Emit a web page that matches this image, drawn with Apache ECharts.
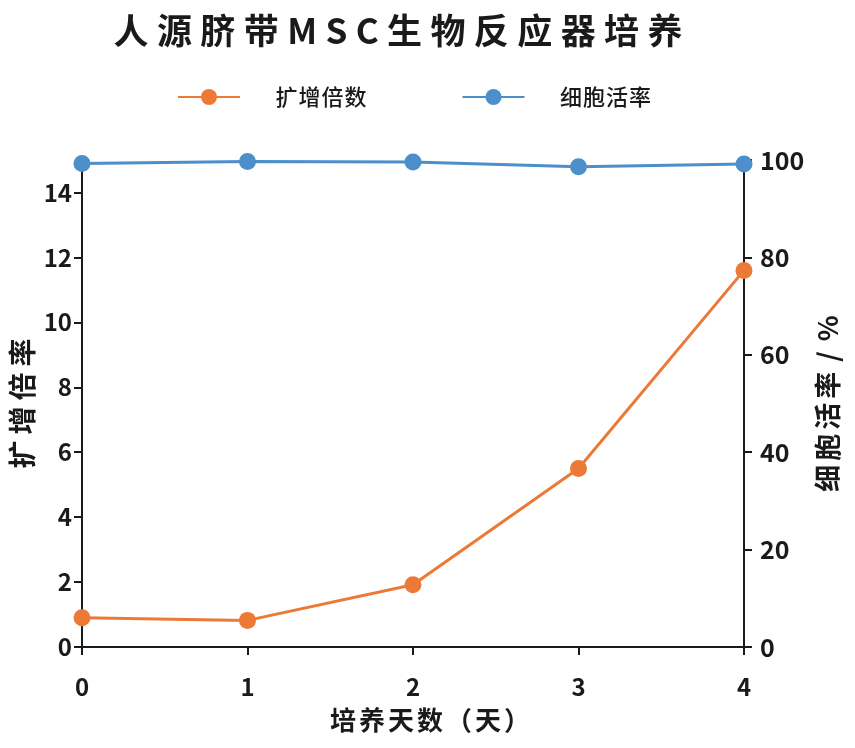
<!DOCTYPE html>
<html>
<head>
<meta charset="utf-8">
<script src="https://cdn.jsdelivr.net/npm/echarts@6/dist/echarts.min.js"></script>
<style>html,body{margin:0;padding:0;background:#fff}#c{width:855px;height:748px}</style>
</head>
<body>
<div id="c"></div>
<script>
var days = [0, 1, 2, 3, 4];
var foldExpansion = [0.9, 0.82, 1.92, 5.5, 11.6];
var viability = [99.3, 99.7, 99.6, 98.6, 99.2];
var seriesNames = ['扩增倍数', '细胞活率'];
var titleText = '人源脐带MSC生物反应器培养';
var xName = '培养天数（天）';
var yLeftName = '扩增倍率';
var yRightName = '细胞活率 / %';

var F = '"Noto Sans CJK SC", "Noto Sans", sans-serif';
var ink = '#1a1a1a';
var orange = '#EC7A36';
var blue = '#4C8FCB';

function spaced(s, key) {
  return s.split('').map(function (c) { return c === ' ' ? ' ' : '{' + key + '|' + c + '}'; }).join('');
}
function richStyle(size, weight, gap) {
  return { fontFamily: F, fontSize: size, fontWeight: weight, color: ink, padding: [0, gap / 2, 0, gap / 2] };
}

var chart = echarts.init(document.getElementById('c'));
chart.setOption({
  backgroundColor: '#fff',
  animation: false,
  title: {
    text: spaced(titleText, 't'),
    left: 393, textAlign: 'center', top: 8,
    textStyle: { fontFamily: F, fontSize: 35, fontWeight: 'bold', color: ink, rich: { t: richStyle(35, 'bold', 8.4) } }
  },
  legend: {
    top: 81, left: 172,
    itemGap: 95,
    itemWidth: 62, itemHeight: 20,
    formatter: function (n) { return spaced(n, 'l'); },
    textStyle: { fontFamily: F, fontSize: 22, color: ink, padding: [0, 0, 0, 30], rich: { l: richStyle(22, 500, 1) } },
    data: seriesNames
  },
  grid: { left: 82, right: 111, top: 160, bottom: 101, outerBoundsMode: 'none', containLabel: false },
  xAxis: {
    type: 'value', min: 0, max: 4, interval: 1,
    name: spaced(xName, 'x'), nameLocation: 'middle', nameGap: 60,
    nameTextStyle: { fontFamily: F, fontSize: 26, fontWeight: 'bold', color: ink, padding: [0, 0, 0, 34], rich: { x: richStyle(26, 'bold', 3) } },
    axisLine: { lineStyle: { color: ink, width: 2 } },
    axisTick: { show: true, length: 8, lineStyle: { color: ink, width: 2 } },
    axisLabel: { fontFamily: F, fontSize: 24, fontWeight: 'bold', color: ink, margin: 28 },
    splitLine: { show: false }
  },
  yAxis: [{
    type: 'value', min: 0, max: 15, interval: 2,
    name: spaced(yLeftName, 'y'), nameLocation: 'middle', nameGap: 46, nameRotate: 90, nameMoveOverlap: false,
    nameTextStyle: { fontFamily: F, fontSize: 28, fontWeight: 'bold', color: ink, rich: { y: richStyle(28, 'bold', 6) } },
    axisLine: { show: true, lineStyle: { color: ink, width: 2 } },
    axisTick: { show: true, length: 8, lineStyle: { color: ink, width: 2 } },
    axisLabel: { fontFamily: F, fontSize: 24, fontWeight: 'bold', color: ink, margin: 10, showMaxLabel: false },
    splitLine: { show: false }
  }, {
    type: 'value', min: 0, max: 100, interval: 20, position: 'right',
    name: spaced(yRightName, 'r'), nameLocation: 'middle', nameGap: 70, nameRotate: 90, nameMoveOverlap: false,
    nameTextStyle: { fontFamily: F, fontSize: 27, fontWeight: 'bold', color: ink, rich: { r: richStyle(27, 'bold', 4) } },
    axisLine: { show: true, lineStyle: { color: ink, width: 2 } },
    axisTick: { show: true, length: 8, lineStyle: { color: ink, width: 2 } },
    axisLabel: { fontFamily: F, fontSize: 25, fontWeight: 'bold', color: ink, margin: 16 },
    splitLine: { show: false }
  }],
  series: [{
    name: seriesNames[0], type: 'line', yAxisIndex: 0,
    data: days.map(function (d, i) { return [d, foldExpansion[i]]; }),
    symbol: 'circle', symbolSize: 17,
    lineStyle: { color: orange, width: 3 }, itemStyle: { color: orange }
  }, {
    name: seriesNames[1], type: 'line', yAxisIndex: 1,
    data: days.map(function (d, i) { return [d, viability[i]]; }),
    symbol: 'circle', symbolSize: 17,
    lineStyle: { color: blue, width: 3 }, itemStyle: { color: blue }
  }]
});
</script>
</body>
</html>
